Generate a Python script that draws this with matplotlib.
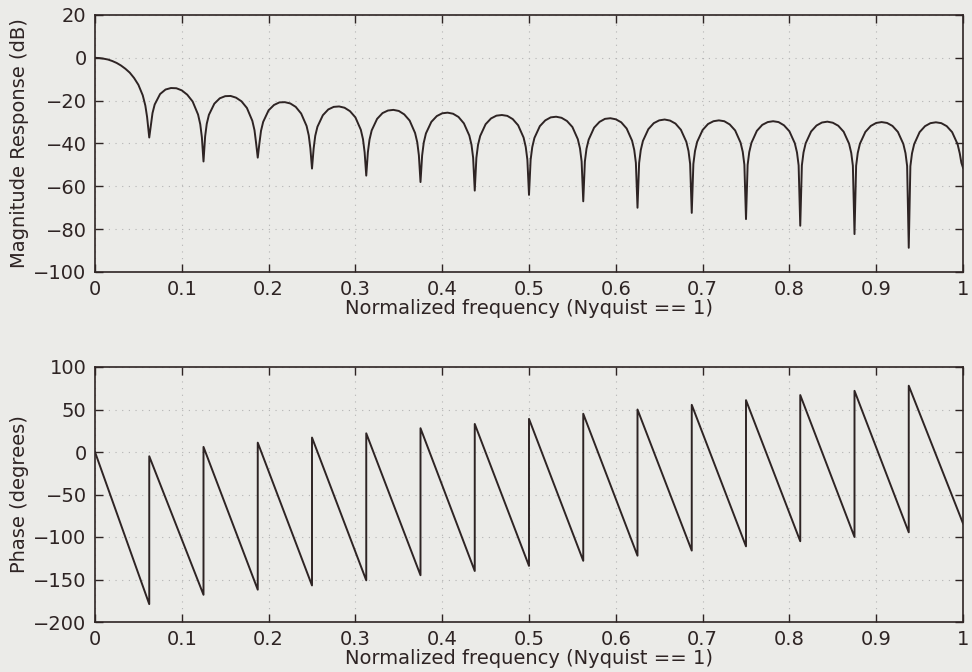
import matplotlib
matplotlib.use("Agg")
import matplotlib.pyplot as plt
import numpy as np

plt.rcParams['font.family'] = ['DejaVu Sans']

# ---------------- data ----------------
# main lobe of magnitude response (freq, dB)
main_freq = [0, .005, .01, .015, .02, .025, .03, .035, .04, .045, .05, .055, .058, .06]
main_db = [0, -0.1, -0.4, -0.8, -1.5, -2.4, -3.6, -5.1, -6.9, -9.4, -12.6, -17.5, -22.3, -27.6]

# nulls (freq, dB)
null_freq = [0.0625, 0.125, 0.1875, 0.25, 0.3125, 0.375, 0.4375, 0.5,
             0.5625, 0.625, 0.6875, 0.75, 0.8125, 0.875, 0.9375]
null_db = [-37.2, -48.4, -46.6, -51.7, -55.0, -58.0, -62.0, -64.0,
           -67.0, -70.0, -72.4, -75.3, -78.4, -82.3, -88.7]
end_freq = 1.0
end_db = -51.3

# sidelobes: dB values at fractions of each lobe's width
lobe_fracs = [0.03, 0.06, 0.1, 0.2, 0.3, 0.4, 0.5, 0.6, 0.7, 0.8, 0.9, 0.94, 0.97]
lobe_db = [
    [-31.5, -25.8, -21.8, -16.9, -14.8, -14.1, -14.2, -15.2, -17.2, -20.4, -26.5, -31.0, -37.1],
    [-36.7, -30.8, -26.6, -21.4, -18.9, -17.9, -17.8, -18.6, -20.3, -23.4, -29.4, -33.8, -39.9],
    [-40.0, -34.1, -29.9, -24.5, -22.0, -20.8, -20.7, -21.3, -22.9, -26.0, -31.8, -36.2, -42.3],
    [-42.4, -36.4, -32.2, -26.8, -24.1, -22.9, -22.7, -23.3, -24.9, -27.8, -33.6, -38.0, -44.1],
    [-44.1, -38.2, -33.9, -28.5, -25.8, -24.6, -24.3, -24.8, -26.4, -29.3, -35.1, -39.4, -45.5],
    [-45.6, -39.6, -35.3, -29.9, -27.2, -25.9, -25.6, -26.1, -27.6, -30.6, -36.3, -40.6, -46.6],
    [-46.7, -40.7, -36.5, -31.0, -28.3, -27.0, -26.7, -27.1, -28.6, -31.5, -37.2, -41.6, -47.6],
    [-47.6, -41.7, -37.4, -31.9, -29.2, -27.8, -27.5, -28.0, -29.5, -32.3, -38.0, -42.3, -48.4],
    [-48.4, -42.4, -38.2, -32.6, -29.9, -28.5, -28.2, -28.7, -30.1, -33.0, -38.7, -43.0, -49.0],
    [-49.1, -43.1, -38.8, -33.3, -30.5, -29.2, -28.8, -29.3, -30.7, -33.6, -39.2, -43.5, -49.5],
    [-49.5, -43.5, -39.2, -33.7, -30.9, -29.6, -29.2, -29.6, -31.1, -33.9, -39.6, -43.9, -49.9],
    [-50.0, -44.0, -39.7, -34.1, -31.3, -30.0, -29.6, -30.0, -31.5, -34.3, -39.9, -44.2, -50.2],
    [-50.2, -44.2, -39.9, -34.4, -31.6, -30.2, -29.8, -30.3, -31.7, -34.5, -40.1, -44.4, -50.4],
    [-50.4, -44.4, -40.1, -34.6, -31.8, -30.4, -30.0, -30.4, -31.8, -34.6, -40.2, -44.5, -50.5],
    [-50.6, -44.6, -40.3, -34.7, -31.9, -30.5, -30.1, -30.5, -31.9, -34.7, -40.3, -44.6, -49.0],
]

# phase: value at start of the curve, tops after each jump, bottoms before each jump
phase_start = 0.0
phase_top = [-5, 6, 11, 17, 22, 28, 33, 39, 45, 50, 55.5, 61, 67, 72, 78]
phase_bottom = [-179, -168, -162, -157, -151, -145, -140, -134, -128, -122, -116, -111, -105, -100, -94.5]
phase_end = -84.0

xticks = [0, 0.1, 0.2, 0.3, 0.4, 0.5, 0.6, 0.7, 0.8, 0.9, 1]
xticklabels = ['0', '0.1', '0.2', '0.3', '0.4', '0.5', '0.6', '0.7', '0.8', '0.9', '1']
mag_yticks = [-100, -80, -60, -40, -20, 0, 20]
phase_yticks = [-200, -150, -100, -50, 0, 50, 100]
xlabel_txt = 'Normalized frequency (Nyquist == 1)'

# ---------------- build the curves ----------------
mag_f = list(main_freq)
mag_v = list(main_db)
edges = null_freq + [end_freq]
for i in range(len(null_freq)):
    mag_f.append(null_freq[i]); mag_v.append(null_db[i])
    a, b = edges[i], edges[i + 1]
    for t, v in zip(lobe_fracs, lobe_db[i]):
        mag_f.append(a + t * (b - a)); mag_v.append(v)
mag_f.append(end_freq); mag_v.append(end_db)

ph_f = [0.0]
ph_v = [phase_start]
for i in range(len(null_freq)):
    ph_f += [null_freq[i], null_freq[i]]
    ph_v += [phase_bottom[i], phase_top[i]]
ph_f.append(end_freq); ph_v.append(phase_end)

# ---------------- draw ----------------
bg = '#ebebe8'
ink = '#2e2424'
fs = 14
fig = plt.figure(figsize=(9.72, 6.72), dpi=100, facecolor=bg)
W, H = 972.0, 672.0
ax1 = fig.add_axes([95 / W, 1 - 272 / H, 868 / W, 257 / H])
ax2 = fig.add_axes([95 / W, 1 - 622 / H, 868 / W, 255 / H])

for ax, yt in ((ax1, mag_yticks), (ax2, phase_yticks)):
    ax.set_facecolor(bg)
    ax.set_xlim(0, 1)
    ax.set_ylim(yt[0], yt[-1])
    ax.set_xticks(xticks)
    ax.set_xticklabels(xticklabels)
    ax.set_yticks(yt)
    ax.tick_params(direction='in', top=True, right=True, length=6, width=1.0,
                   color=ink, labelcolor=ink, labelsize=fs, pad=6)
    for s in ax.spines.values():
        s.set_color(ink)
        s.set_linewidth(1.2)
    ax.grid(True, linestyle=(0, (1, 5)), color='#b4b4b4', linewidth=0.8)
    ax.set_xlabel(xlabel_txt, fontsize=fs, color=ink, labelpad=0)

ax1.plot(mag_f, mag_v, color=ink, linewidth=1.4)
ax1.set_ylabel('Magnitude Response (dB)', fontsize=fs, color=ink, labelpad=3)
ax2.plot(ph_f, ph_v, color=ink, linewidth=1.4)
ax2.set_ylabel('Phase (degrees)', fontsize=fs, color=ink, labelpad=3)

fig.savefig('out.png', dpi=100, facecolor=bg)
